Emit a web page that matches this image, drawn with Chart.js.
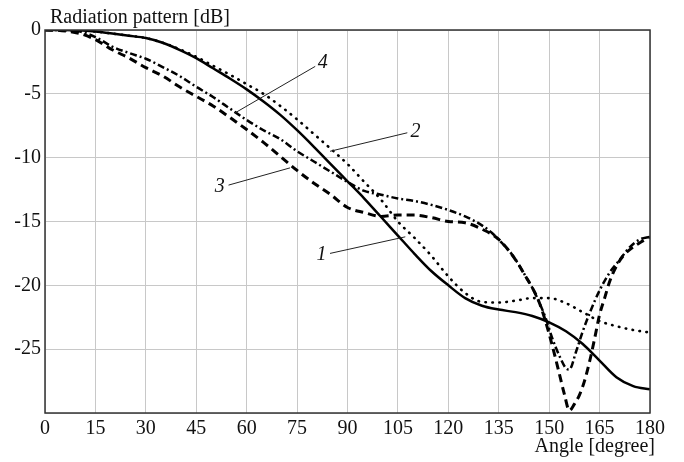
<!DOCTYPE html>
<html lang="en">
<head>
    <meta charset="UTF-8">
    <title>Radiation pattern</title>
    <script src="https://cdn.jsdelivr.net/npm/chart.js"></script>
    <style>
        html, body { margin: 0; padding: 0; background: #fff; }
        #wrap { width: 684px; height: 462px; }
    </style>
</head>
<body>
<div id="wrap"><canvas id="myChart" width="684" height="462"></canvas></div>
<script>
    // angles [degree] and levels [dB]
    const angles12 = [0, 5, 10, 15, 20, 25, 30, 35, 40, 45, 50, 55, 60, 65, 70, 75, 80, 85, 90,
        95, 100, 105, 110, 115, 120, 125, 130, 135, 140, 145, 150, 155, 160, 165, 170, 175, 180];
    const curve1 = [0, 0, -0.02, -0.12, -0.28, -0.45, -0.63, -1.0, -1.55, -2.2, -3.0, -3.8, -4.65,
        -5.6, -6.65, -7.85, -9.15, -10.5, -11.85, -13.2, -14.65, -16.1, -17.55, -18.9, -20.0, -21.0,
        -21.6, -21.9, -22.1, -22.4, -22.9, -23.6, -24.6, -25.9, -27.2, -27.9, -28.15];
    const curve2 = [0, 0, -0.02, -0.12, -0.28, -0.45, -0.63, -1.0, -1.5, -2.1, -2.8, -3.5, -4.25,
        -5.0, -5.95, -7.0, -8.15, -9.3, -10.5, -11.9, -13.3, -15.0, -16.3, -17.7, -19.3, -20.6,
        -21.3, -21.35, -21.2, -21.0, -21.0, -21.4, -22.1, -22.8, -23.2, -23.5, -23.7];

    const angles3 = [0, 5, 10, 15, 20, 25, 30, 35, 40, 45, 50, 55, 60, 65, 70, 75, 80, 85, 90, 95,
        100, 105, 110, 115, 120, 125, 130, 135, 140, 143, 145, 147, 149, 151, 153, 154.5, 156,
        157.5, 159, 160.5, 162, 163.5, 165, 166.5, 168, 170, 172, 175, 178, 180];
    const curve3 = [0, -0.05, -0.25, -0.75, -1.55, -2.2, -2.95, -3.6, -4.45, -5.2, -5.95, -6.85,
        -7.8, -8.8, -9.9, -11.0, -12.0, -12.9, -13.9, -14.3, -14.6, -14.5, -14.5, -14.7, -15.0,
        -15.1, -15.6, -16.4, -18.0, -19.3, -20.2, -21.3, -22.9, -24.8, -26.9, -28.5, -29.8,
        -29.3, -28.6, -27.5, -26.0, -24.2, -22.3, -21.0, -19.7, -18.5, -17.7, -17.0, -16.5, -16.2];

    const angles4 = [0, 5, 10, 15, 20, 25, 30, 35, 40, 45, 50, 55, 60, 65, 70, 75, 80, 85, 90, 95,
        100, 105, 110, 115, 120, 125, 130, 133, 136, 139, 141, 143, 145, 147, 149, 151, 153, 155,
        156, 158, 160, 162, 165, 168, 171, 174, 177, 180];
    const curve4 = [0, 0, -0.1, -0.55, -1.3, -1.8, -2.25, -2.9, -3.6, -4.45, -5.25, -6.15, -7.05,
        -7.85, -8.55, -9.5, -10.3, -11.1, -11.9, -12.6, -12.9, -13.2, -13.4, -13.7, -14.1, -14.6,
        -15.3, -15.9, -16.7, -17.6, -18.4, -19.3, -20.2, -21.3, -22.6, -24.2, -25.5, -26.5,
        -26.6, -25.2, -23.6, -22.2, -20.4, -19.0, -18.0, -17.0, -16.4, -16.2];

    const xTicks = [0, 15, 30, 45, 60, 75, 90, 105, 120, 135, 150, 165, 180];
    const yTicks = [0, -5, -10, -15, -20, -25];

    // curve numbers: [text, text angle, text dB, leader from (angle, dB), leader to (angle, dB)]
    const curveLabels = [
        ['1', 82.3, -17.6, 84.8, -17.5, 107.2, -16.2],
        ['2', 110.2, -8.0, 107.8, -8.05, 84.8, -9.5],
        ['3', 52.0, -12.3, 54.6, -12.15, 72.9, -10.8],
        ['4', 82.6, -2.6, 80.4, -2.85, 56.5, -6.5]
    ];

    function pts(xs, ys) {
        return xs.map((x, i) => ({ x: x, y: ys[i] }));
    }

    const serif = '"Liberation Serif", "Times New Roman", serif';

    const decorPlugin = {
        id: 'decor',
        afterDatasetsDraw(chart) {
            const ctx = chart.ctx;
            const a = chart.chartArea;
            const xs = chart.scales.x;
            const ys = chart.scales.y;
            ctx.save();
            // frame
            ctx.strokeStyle = '#333';
            ctx.lineWidth = 1.5;
            ctx.strokeRect(a.left, a.top, a.right - a.left, a.bottom - a.top);

            // axis titles
            ctx.fillStyle = '#111';
            ctx.font = '20px ' + serif;
            ctx.textBaseline = 'alphabetic';
            ctx.textAlign = 'left';
            ctx.fillText('Radiation pattern [dB]', a.left + 5, 23);
            ctx.textAlign = 'right';
            ctx.fillText('Angle [degree]', a.right + 5, 452);

            // curve numbers with leader lines
            ctx.strokeStyle = '#222';
            ctx.lineWidth = 1;
            ctx.font = 'italic 20px ' + serif;
            ctx.textAlign = 'center';
            ctx.textBaseline = 'middle';
            curveLabels.forEach(l => {
                ctx.beginPath();
                ctx.moveTo(xs.getPixelForValue(l[3]), ys.getPixelForValue(l[4]));
                ctx.lineTo(xs.getPixelForValue(l[5]), ys.getPixelForValue(l[6]));
                ctx.stroke();
                ctx.fillText(l[0], xs.getPixelForValue(l[1]), ys.getPixelForValue(l[2]));
            });
            ctx.restore();
        }
    };

    const ctx = document.getElementById('myChart').getContext('2d');

    new Chart(ctx, {
        type: 'line',
        data: {
            datasets: [{
                label: '1',
                data: pts(angles12, curve1),
                borderColor: '#000',
                borderWidth: 2.5
            }, {
                label: '2',
                data: pts(angles12, curve2),
                borderColor: '#000',
                borderWidth: 2.6,
                borderCapStyle: 'round',
                borderDash: [0.5, 6.5]
            }, {
                label: '3',
                data: pts(angles3, curve3),
                borderColor: '#000',
                borderWidth: 3,
                borderDash: [8, 5]
            }, {
                label: '4',
                data: pts(angles4, curve4),
                borderColor: '#000',
                borderWidth: 2.5,
                borderDash: [7, 3, 2, 3]
            }]
        },
        options: {
            responsive: false,
            animation: false,
            elements: {
                point: { radius: 0 },
                line: { cubicInterpolationMode: 'monotone', fill: false }
            },
            layout: { padding: { top: 30, right: 34, left: 0, bottom: 0 } },
            plugins: {
                legend: { display: false },
                tooltip: { enabled: false }
            },
            scales: {
                x: {
                    type: 'linear',
                    min: 0,
                    max: 180,
                    afterBuildTicks: s => { s.ticks = xTicks.map(v => ({ value: v })); },
                    afterFit: s => { s.height = 49; },
                    grid: { color: '#c8c8c8', lineWidth: 1, drawTicks: false },
                    border: { display: false },
                    ticks: {
                        color: '#111',
                        padding: 4,
                        maxRotation: 0,
                        font: { family: serif, size: 20 }
                    }
                },
                y: {
                    type: 'linear',
                    min: -30,
                    max: 0,
                    afterBuildTicks: s => { s.ticks = [-30].concat(yTicks).map(v => ({ value: v })); },
                    afterFit: s => { s.width = 45; },
                    grid: { color: '#c8c8c8', lineWidth: 1, drawTicks: false },
                    border: { display: false },
                    ticks: {
                        color: '#111',
                        padding: 4,
                        font: { family: serif, size: 20 },
                        callback: v => (yTicks.includes(v) ? String(v) : '')
                    }
                }
            }
        },
        plugins: [decorPlugin]
    });
</script>
</body>
</html>
